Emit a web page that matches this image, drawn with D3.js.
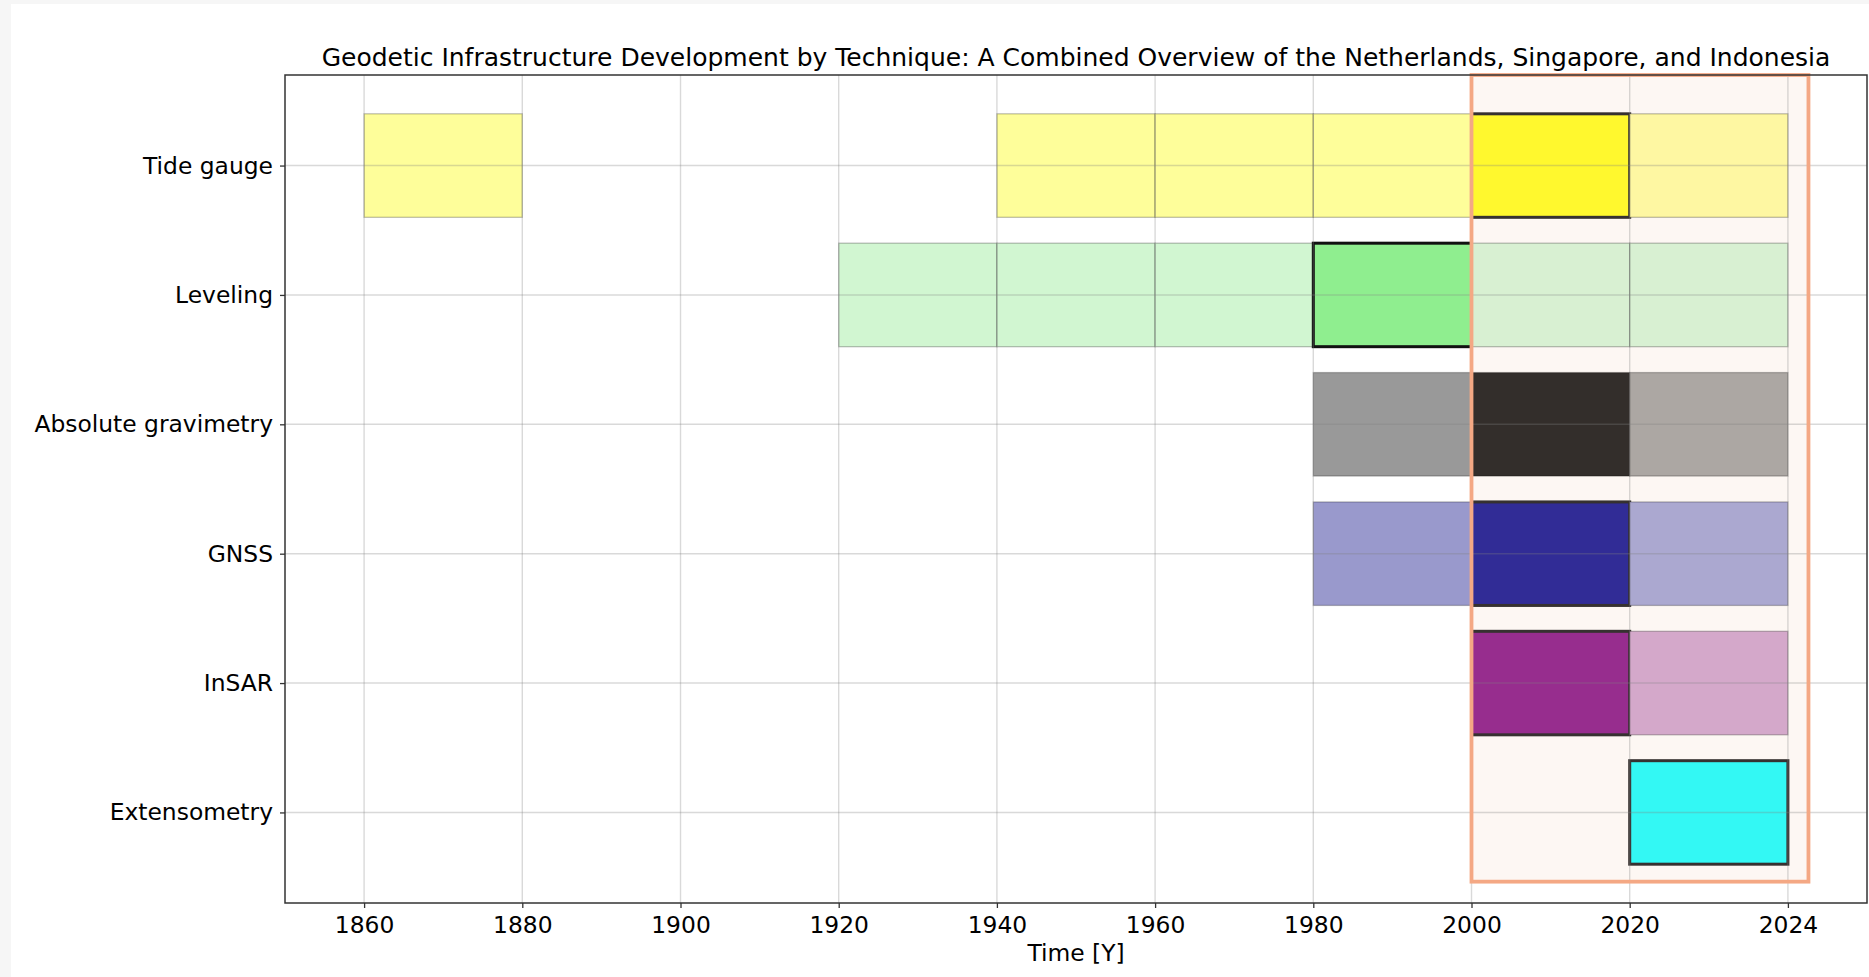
<!DOCTYPE html>
<html>
<head>
<meta charset="utf-8">
<script src="https://cdn.jsdelivr.net/npm/d3@7"></script>
<style>
  body { margin: 0; background: #f6f6f6; }
  svg { display: block; font-family: "DejaVu Sans", sans-serif; }
</style>
</head>
<body>
<svg id="chart" width="1869" height="977"></svg>
<script>
const techniques = ['Tide gauge', 'Leveling', 'Absolute gravimetry', 'GNSS', 'InSAR', 'Extensometry'];
const tickYears = [1860, 1880, 1900, 1920, 1940, 1960, 1980, 2000, 2020, 2024];

// [technique, start, end, phase]
const segments = [
  ['Tide gauge', 1860, 1880, 'past'],
  ['Tide gauge', 1940, 1960, 'past'],
  ['Tide gauge', 1960, 1980, 'past'],
  ['Tide gauge', 1980, 2000, 'past'],
  ['Tide gauge', 2000, 2020, 'key'],
  ['Tide gauge', 2020, 2024, 'recent'],
  ['Leveling', 1920, 1940, 'past'],
  ['Leveling', 1940, 1960, 'past'],
  ['Leveling', 1960, 1980, 'past'],
  ['Leveling', 1980, 2000, 'key'],
  ['Leveling', 2000, 2020, 'recent'],
  ['Leveling', 2020, 2024, 'recent'],
  ['Absolute gravimetry', 1980, 2000, 'past'],
  ['Absolute gravimetry', 2000, 2020, 'main'],
  ['Absolute gravimetry', 2020, 2024, 'recent'],
  ['GNSS', 1980, 2000, 'past'],
  ['GNSS', 2000, 2020, 'key'],
  ['GNSS', 2020, 2024, 'recent'],
  ['InSAR', 2000, 2020, 'key'],
  ['InSAR', 2020, 2024, 'recent'],
  ['Extensometry', 2020, 2024, 'key']
];

// highlighted window (combined overview period)
const highlightYears = [2000, 2024];

const colours = {
  'Tide gauge':          { past: '#fefe9a', key: '#fff82e', recent: '#fef7a2' },
  'Leveling':            { past: '#d1f6d1', key: '#8fee8f', recent: '#d8f0d2' },
  'Absolute gravimetry': { past: '#999999', main: '#332e2b', recent: '#aca7a3' },
  'GNSS':                { past: '#9999cc', key: '#312c96', recent: '#aba8d0' },
  'InSAR':               { key: '#972d8e', recent: '#d4a8ca' },
  'Extensometry':        { key: '#33f8f4' }
};

function render() {
  const svg = d3.select('#chart');
  const width = +svg.attr('width');
  const height = +svg.attr('height');
  const margin = { top: 75, right: 2, bottom: 74, left: 285 };
  const innerWidth = width - margin.left - margin.right;
  const innerHeight = height - margin.top - margin.bottom;

  // white figure area
  svg.append('rect')
    .attr('x', 11).attr('y', 4)
    .attr('width', width - 11).attr('height', height - 4)
    .attr('fill', '#ffffff');

  const idx = year => tickYears.indexOf(year);

  const xScale = d3.scaleLinear()
    .domain([-0.5, tickYears.length - 0.5])
    .range([0, innerWidth]);

  const yScale = d3.scaleLinear()
    .domain([-0.7, techniques.length - 0.3])
    .range([0, innerHeight]);

  const chart = svg.append('g')
    .attr('transform', `translate(${margin.left}, ${margin.top})`);

  const barH = 0.8;

  // highlight window fill
  const hx0 = xScale(idx(highlightYears[0]));
  const hx1 = xScale(idx(highlightYears[1]) + 0.13);
  const hy0 = yScale(-0.7);
  const hy1 = yScale(techniques.length - 0.465);
  chart.append('rect')
    .attr('x', hx0).attr('y', hy0)
    .attr('width', hx1 - hx0).attr('height', hy1 - hy0)
    .attr('fill', '#fdf7f3');

  // bars
  chart.append('g').attr('class', 'bars')
    .selectAll('rect')
    .data(segments)
    .enter().append('rect')
    .attr('x', d => xScale(idx(d[1])))
    .attr('y', d => yScale(techniques.indexOf(d[0]) - barH / 2))
    .attr('width', d => xScale(idx(d[2])) - xScale(idx(d[1])))
    .attr('height', d => yScale(barH) - yScale(0))
    .attr('fill', d => colours[d[0]][d[3]])
    .attr('stroke', d => d[3] === 'key' ? (d[0] === 'Leveling' ? '#111111' : '#363130') : 'rgba(0,0,0,0.25)')
    .attr('stroke-width', d => d[3] === 'key' ? 3 : 1.3);

  // grid on top of bars
  const grid = chart.append('g').attr('class', 'grid');
  grid.selectAll('.vgrid')
    .data(tickYears)
    .enter().append('line')
    .attr('x1', d => xScale(idx(d))).attr('x2', d => xScale(idx(d)))
    .attr('y1', 0).attr('y2', innerHeight)
    .attr('stroke', '#808080').attr('stroke-opacity', 0.3).attr('stroke-width', 1.4);
  grid.selectAll('.hgrid')
    .data(techniques)
    .enter().append('line')
    .attr('x1', 0).attr('x2', innerWidth)
    .attr('y1', (d, i) => yScale(i)).attr('y2', (d, i) => yScale(i))
    .attr('stroke', '#808080').attr('stroke-opacity', 0.3).attr('stroke-width', 1.4);

  // highlight window edge
  chart.append('rect')
    .attr('x', hx0).attr('y', hy0)
    .attr('width', hx1 - hx0).attr('height', hy1 - hy0)
    .attr('fill', 'none')
    .attr('stroke', '#f4a884')
    .attr('stroke-width', 3.8);

  // axes
  const xAxis = d3.axisBottom(xScale)
    .tickValues(d3.range(tickYears.length))
    .tickFormat(i => tickYears[i])
    .tickSize(5).tickPadding(8);
  const yAxis = d3.axisLeft(yScale)
    .tickValues(d3.range(techniques.length))
    .tickFormat(i => techniques[i])
    .tickSize(5).tickPadding(7);

  const gx = chart.append('g')
    .attr('transform', `translate(0, ${innerHeight})`)
    .call(xAxis);
  const gy = chart.append('g').call(yAxis);

  [gx, gy].forEach(g => {
    g.select('.domain').remove();
    g.selectAll('.tick line').attr('stroke', '#333333').attr('stroke-width', 1.3);
    g.selectAll('.tick text')
      .attr('fill', '#000000')
      .style('font-family', '"DejaVu Sans", sans-serif')
      .style('font-size', '23.4px');
  });

  // frame
  chart.append('rect')
    .attr('x', 0).attr('y', 0)
    .attr('width', innerWidth).attr('height', innerHeight)
    .attr('fill', 'none')
    .attr('stroke', '#333333')
    .attr('stroke-width', 1.5);

  // labels
  svg.append('text')
    .attr('x', margin.left + innerWidth / 2)
    .attr('y', 66)
    .attr('text-anchor', 'middle')
    .style('font-size', '25px')
    .text('Geodetic Infrastructure Development by Technique: A Combined Overview of the Netherlands, Singapore, and Indonesia');

  svg.append('text')
    .attr('x', margin.left + innerWidth / 2)
    .attr('y', 961)
    .attr('text-anchor', 'middle')
    .style('font-size', '23.4px')
    .text('Time [Y]');
}

render();
</script>
</body>
</html>
